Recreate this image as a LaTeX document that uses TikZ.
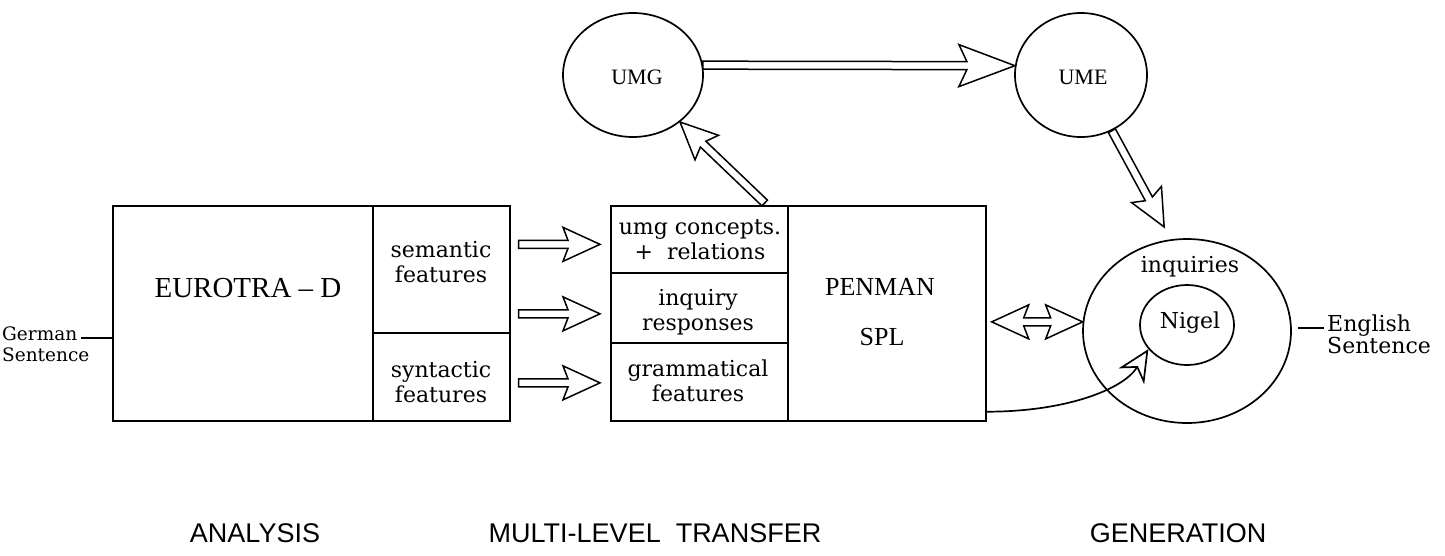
\documentclass[tikz,border=0pt]{standalone}
\usepackage{fontspec}
\usetikzlibrary{calc,arrows.meta,shapes.geometric}
\newfontfamily\lblfont{DejaVu Serif}
\newfontfamily\capfont{Liberation Serif}
\newfontfamily\bfont{Liberation Sans}
\tikzset{
 cell/.style={draw, line width=1.7pt, inner sep=0pt, anchor=north west},
 lbl/.style={font=\lblfont\fontsize{22}{25}\selectfont, align=center, inner sep=0pt},
 side/.style={font=\lblfont\fontsize{18.5}{21}\selectfont, inner sep=0pt},
 capl/.style={font=\capfont\fontsize{29}{34}\selectfont, inner sep=0pt},
 smallcap/.style={font=\capfont\fontsize{22}{26}\selectfont, inner sep=0pt},
 circ/.style={draw, ellipse, line width=1.7pt, inner sep=0pt},
 harr/.style={draw, line width=1.5pt, line join=miter, fill=white},
 stage/.style={font=\bfont\fontsize{27}{30}\selectfont, inner sep=0pt},
 plain/.style={line width=1.7pt},
}
% general hollow arrow: start, tip, shaft-end distance, barb distance, barb half width
\newcommand{\harrowg}[5]{%
 \path[harr] ($(#1)!4pt!90:(#2)$) -- ($(#2)!#3pt!(#1)!4pt!90:(#2)$) -- ($(#2)!#4pt!(#1)!#5pt!90:(#2)$) -- (#2)
  -- ($(#2)!#4pt!(#1)!#5pt!-90:(#2)$) -- ($(#2)!#3pt!(#1)!4pt!-90:(#2)$) -- ($(#1)!4pt!-90:(#2)$) -- cycle;}
\newcommand{\harrow}[2]{\harrowg{#1}{#2}{32}{37}{17}}
\newcommand{\hdarrow}[2]{%
 \path[harr] (#1) -- ($(#1)!37pt!(#2)!17pt!90:(#2)$) -- ($(#1)!32pt!(#2)!4pt!90:(#2)$)
  -- ($(#2)!32pt!(#1)!4pt!90:(#2)$) -- ($(#2)!37pt!(#1)!17pt!90:(#2)$) -- (#2)
  -- ($(#2)!37pt!(#1)!17pt!-90:(#2)$) -- ($(#2)!32pt!(#1)!4pt!-90:(#2)$)
  -- ($(#1)!32pt!(#2)!4pt!-90:(#2)$) -- ($(#1)!37pt!(#2)!17pt!-90:(#2)$) -- cycle;}
\begin{document}
\begin{tikzpicture}[x=1pt,y=-1pt]
\useasboundingbox (0,0) rectangle (1445,555);
% analysis box
\node[cell, minimum width=260pt, minimum height=215pt] (eur) at (112,205) {};
\node[cell, minimum width=137pt, minimum height=127pt] (sem) at (372,205) {};
\node[cell, minimum width=137pt, minimum height=88pt] (syn) at (372,332) {};
\node[capl] (eurt) at (248,288) {EUROTRA – D};
\node[lbl] (semt) at (441,262) {semantic\\features};
\node[lbl] (synt) at (441,382) {syntactic\\features};
% transfer box
\node[cell, minimum width=177pt, minimum height=67pt] (umgc) at (610,205) {};
\node[cell, minimum width=177pt, minimum height=70pt] (inq) at (610,272) {};
\node[cell, minimum width=177pt, minimum height=78pt] (gram) at (610,342) {};
\node[cell, minimum width=198pt, minimum height=215pt] (pen) at (787,205) {};
\node[lbl] (umgct) at (700,240) {umg concepts.\\+\ \ relations};
\node[lbl] (inqt) at (698,312) {inquiry\\responses};
\node[lbl] (gramt) at (698,381) {grammatical\\features};
\node[capl, font=\capfont\fontsize{26}{30}\selectfont] (pent) at (880,287) {PENMAN};
\node[capl, font=\capfont\fontsize{26}{30}\selectfont] (splt) at (882,337) {SPL};
% upper ellipses
\node[circ, minimum width=140pt, minimum height=124pt] (umg) at (633,75) {};
\node[circ, minimum width=132pt, minimum height=124pt] (ume) at (1081,75) {};
\node[smallcap] (umgt) at (637,77) {UMG};
\node[smallcap] (umet) at (1083,77) {UME};
% generation
\node[circ, minimum width=208pt, minimum height=184pt] (outer) at (1187,331) {};
\node[circ, minimum width=94pt, minimum height=80pt] (nigel) at (1187,325) {};
\node[lbl] (inqs) at (1190,267) {inquiries};
\node[lbl] (nigt) at (1190,323) {Nigel};
% side labels
\node[side, anchor=base west] (ger) at (2,340) {German};
\node[side, anchor=base west] (gsen) at (2,361) {Sentence};
\draw[plain] ($(ger.base east)+(4,-2)$) -- ($(ger.base east -| eur.west)+(0,-2)$);
\node[lbl, anchor=base west] (eng) at (1327,331) {English};
\node[lbl, anchor=base west] (esen) at (1327,353) {Sentence};
\coordinate (engl) at ($(eng.base west)+(-29,-3)$);
\draw[plain] (engl) -- ($(eng.base west)+(-3,-3)$);
% stage labels
\node[stage] (ana) at (255,533) {ANALYSIS};
\node[stage] (mlt) at (655,533) {MULTI-LEVEL\ \ TRANSFER};
\node[stage] (gen) at (1178,533) {GENERATION};
% arrows
\harrowg{umg.8}{ume.172}{48}{56}{21}
\coordinate (t2) at ($(umgc.north east)+(-24,-2)$);
\harrow{t2}{umg.-45}
\coordinate (t3) at ($(outer.100)!14pt!(ume.-61)$);
\harrow{ume.-61}{t3}
\coordinate (a1s) at ($(sem.east |- umgc.west)+(8,5)$);
\coordinate (a1e) at ($(umgc.west)+(-10,5)$);
\coordinate (a2s) at ($(sem.east |- inq.west)+(8,6)$);
\coordinate (a2e) at ($(inq.west)+(-10,6)$);
\coordinate (a3s) at ($(sem.east |- gram.west)+(8,1)$);
\coordinate (a3e) at ($(gram.west)+(-10,1)$);
\harrow{a1s}{a1e}
\harrow{a2s}{a2e}
\harrow{a3s}{a3e}
\coordinate (b1) at ($(pen.east |- outer.175)+(5,0)$);
\hdarrow{b1}{outer.175}
\draw[plain, -{Stealth[open,length=32pt,width=30pt,inset=10pt]}] ($(pen.south east)+(0,-10)$) .. controls +(80,0) and +(-25,40) .. (nigel.212);
\end{tikzpicture}
\end{document}
